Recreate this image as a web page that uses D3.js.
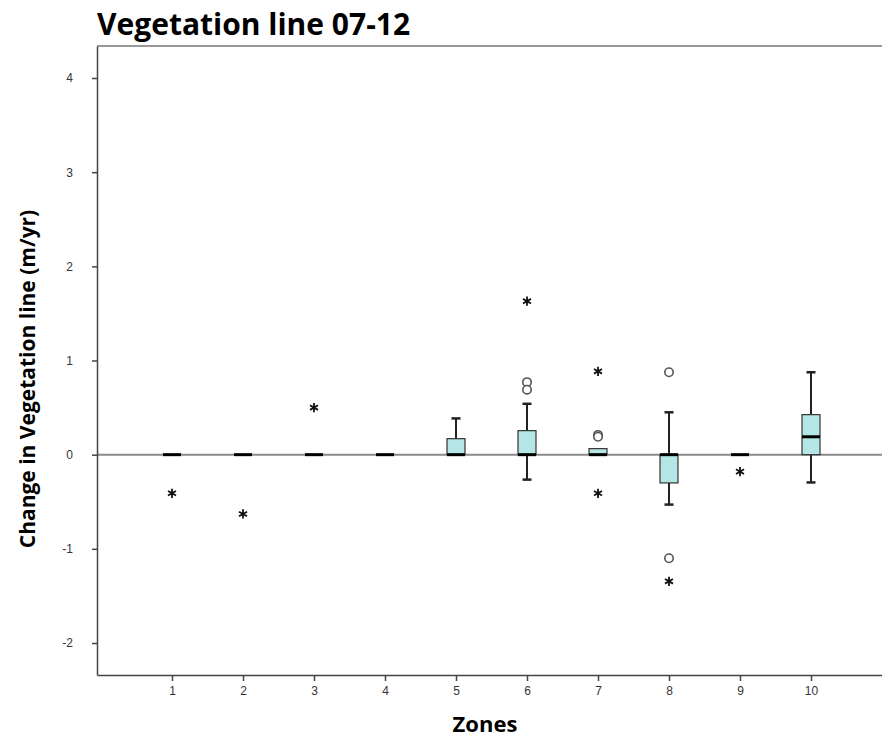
<!DOCTYPE html>
<html>
<head>
<meta charset="utf-8">
<script src="https://cdn.jsdelivr.net/npm/d3@7"></script>
<style>
  body { margin: 0; background: #fff; }
  svg { display: block; }
</style>
</head>
<body>
<div id="chart"></div>
<script>
// values
const zones = [1, 2, 3, 4, 5, 6, 7, 8, 9, 10];
const q1 = [0, 0, 0, 0, 0, 0, 0, -0.30, 0, 0];
const medians = [0, 0, 0, 0, 0, 0, 0, 0, 0, 0.19];
const q3 = [0, 0, 0, 0, 0.17, 0.255, 0.064, 0, 0, 0.425];
const whiskerLow = [0, 0, 0, 0, 0, -0.265, 0, -0.53, 0, -0.295];
const whiskerHigh = [0, 0, 0, 0, 0.385, 0.54, 0.064, 0.45, 0, 0.875];
const outliers = [[], [], [], [], [], [0.77, 0.69], [0.21, 0.19], [0.875, -1.10], [], []];
const extremes = [[-0.41], [-0.63], [0.50], [], [], [1.63], [0.885, -0.41], [-1.345], [-0.18], []];
const yTicks = [-2, -1, 0, 1, 2, 3, 4];

const width = 882, height = 740;
const plotLeft = 97, plotTop = 46, plotBottom = 675, plotRight = 884;

const svg = d3.select("#chart").append("svg")
    .attr("width", width)
    .attr("height", height);

// x: linear so that zone ticks sit at fixed spacing, then stretched to the frame
const x = d3.scaleLinear().domain([1, 10]).range([172, 811]);
x.domain([x.invert(plotLeft), x.invert(plotRight)]).range([plotLeft, plotRight]);

const y = d3.scaleLinear().domain([-2, 4]).range([643, 78]);
y.domain([y.invert(plotBottom), y.invert(plotTop)]).range([plotBottom, plotTop]);

// top frame line
svg.append("line")
    .attr("x1", plotLeft).attr("x2", plotRight)
    .attr("y1", plotTop).attr("y2", plotTop)
    .attr("stroke", "#777").attr("stroke-width", 1.5);

// zero reference line
svg.append("line")
    .attr("x1", plotLeft).attr("x2", plotRight)
    .attr("y1", y(0)).attr("y2", y(0))
    .attr("stroke", "#8a8a8a").attr("stroke-width", 2);

// axes
const yAxis = svg.append("g")
    .attr("transform", `translate(${plotLeft},0)`)
    .call(d3.axisLeft(y).tickValues(yTicks).tickFormat(d => String(d))
        .tickSize(5).tickSizeOuter(0).tickPadding(19));
const xAxis = svg.append("g")
    .attr("transform", `translate(0,${plotBottom})`)
    .call(d3.axisBottom(x).tickValues(zones).tickFormat(d => String(d))
        .tickSize(6).tickSizeOuter(0).tickPadding(5));

[yAxis, xAxis].forEach(g => {
    g.select(".domain").attr("stroke", "#444").attr("stroke-width", 1.5);
    g.selectAll(".tick line").attr("stroke", "#444").attr("stroke-width", 1.5);
    g.selectAll(".tick text")
        .attr("fill", "#333")
        .style("font-family", "'Liberation Sans', Arial, sans-serif")
        .style("font-size", "12px");
});

const boxW = 18, capW = 9;
const boxes = svg.append("g");
const star = d3.symbol(d3.symbolAsterisk, 60);

zones.forEach((z, i) => {
    const cx = x(z);
    const g = boxes.append("g");
    // whiskers
    if (whiskerHigh[i] > q3[i]) {
        g.append("line").attr("x1", cx).attr("x2", cx)
            .attr("y1", y(q3[i])).attr("y2", y(whiskerHigh[i]))
            .attr("stroke", "#222").attr("stroke-width", 2);
        g.append("line").attr("x1", cx - capW / 2).attr("x2", cx + capW / 2)
            .attr("y1", y(whiskerHigh[i])).attr("y2", y(whiskerHigh[i]))
            .attr("stroke", "#222").attr("stroke-width", 2.5);
    }
    if (whiskerLow[i] < q1[i]) {
        g.append("line").attr("x1", cx).attr("x2", cx)
            .attr("y1", y(q1[i])).attr("y2", y(whiskerLow[i]))
            .attr("stroke", "#222").attr("stroke-width", 2);
        g.append("line").attr("x1", cx - capW / 2).attr("x2", cx + capW / 2)
            .attr("y1", y(whiskerLow[i])).attr("y2", y(whiskerLow[i]))
            .attr("stroke", "#222").attr("stroke-width", 2.5);
    }
    // box
    if (q3[i] > q1[i]) {
        g.append("rect")
            .attr("x", cx - boxW / 2).attr("width", boxW)
            .attr("y", y(q3[i])).attr("height", y(q1[i]) - y(q3[i]))
            .attr("fill", "#b4e6e6").attr("stroke", "#333").attr("stroke-width", 1.2);
    }
    // median
    g.append("line")
        .attr("x1", cx - boxW / 2).attr("x2", cx + boxW / 2)
        .attr("y1", y(medians[i])).attr("y2", y(medians[i]))
        .attr("stroke", "#000").attr("stroke-width", 3);
    // outliers
    outliers[i].forEach(v => {
        g.append("circle").attr("cx", cx).attr("cy", y(v)).attr("r", 4.2)
            .attr("fill", "#fff").attr("stroke", "#555").attr("stroke-width", 1.6);
    });
    // extremes
    extremes[i].forEach(v => {
        g.append("path")
            .attr("transform", `translate(${cx},${y(v)})`)
            .attr("d", star)
            .attr("fill", "none")
            .attr("stroke", "#111")
            .attr("stroke-width", 1.8);
    });
});

// titles
const labelFont = "'Open Sans', Lato, sans-serif";
svg.append("text")
    .attr("x", plotLeft).attr("y", 35)
    .style("font-family", labelFont)
    .style("font-weight", "bold")
    .style("font-size", "30px")
    .attr("fill", "#000")
    .text("Vegetation line 07-12");

svg.append("text")
    .attr("transform", "translate(35,379) rotate(-90)")
    .attr("text-anchor", "middle")
    .style("font-family", labelFont)
    .style("font-weight", "bold")
    .style("font-size", "21px")
    .text("Change in Vegetation line (m/yr)");

svg.append("text")
    .attr("x", 485).attr("y", 732)
    .attr("text-anchor", "middle")
    .style("font-family", labelFont)
    .style("font-weight", "bold")
    .style("font-size", "22px")
    .text("Zones");
</script>
</body>
</html>
